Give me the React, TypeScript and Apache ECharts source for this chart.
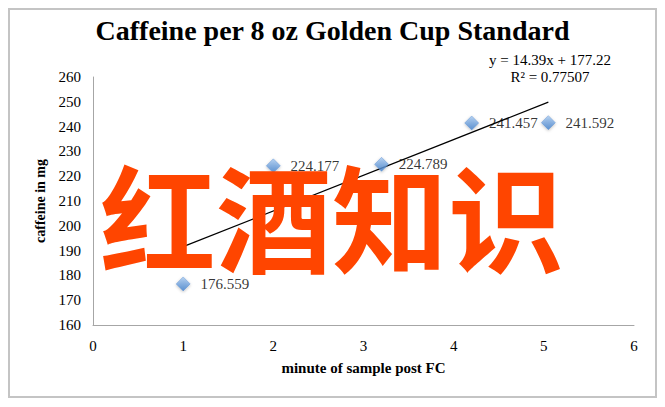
import React, { useEffect, useRef } from "react";
import * as echarts from "echarts";

const xValues = [1, 2, 3.2, 4.2, 5.05];
const yValues = [176.559, 224.177, 224.789, 241.457, 241.592];
const trendSlope = 14.39;
const trendIntercept = 177.22;
const trendRange = [1, 5.05];
const rSquared = "0.77507";
const titleText = "Caffeine per 8 oz Golden Cup Standard";
const overlayText = "红酒知识";

export default function App() {
  const ref = useRef<HTMLDivElement>(null);
  useEffect(() => {
    if (!ref.current) return;
    const chart = echarts.init(ref.current, null, { renderer: "svg" });
    const serif = "Liberation Serif";
    const points = xValues.map((x, i) => [x, yValues[i]]);
    const trend = trendRange.map((x) => [x, +(trendSlope * x + trendIntercept).toFixed(3)]);
    chart.setOption({
      animation: false,
      backgroundColor: "#ffffff",
      title: {
        text: titleText,
        left: "center",
        top: 11,
        textStyle: { fontFamily: serif, fontWeight: "bold", fontSize: 28, color: "#000" },
      },
      grid: { left: 93, right: 31, top: 77, bottom: 82 },
      xAxis: {
        type: "value",
        min: 0,
        max: 6,
        interval: 1,
        name: "minute of sample post FC",
        nameLocation: "middle",
        nameGap: 35,
        nameTextStyle: { fontFamily: serif, fontWeight: "bold", fontSize: 15, color: "#000" },
        axisLine: { lineStyle: { color: "#a6a6a6", width: 1 } },
        axisTick: { show: false },
        splitLine: { show: false },
        axisLabel: { fontFamily: serif, fontSize: 15, color: "#000", margin: 13 },
      },
      yAxis: {
        type: "value",
        min: 160,
        max: 260,
        interval: 10,
        name: "caffeine in mg",
        nameLocation: "middle",
        nameRotate: 90,
        nameGap: 41,
        nameTextStyle: { fontFamily: serif, fontWeight: "bold", fontSize: 14, color: "#000" },
        axisLine: { show: true, lineStyle: { color: "#a6a6a6", width: 1 } },
        axisTick: { show: false },
        splitLine: { show: false },
        axisLabel: { fontFamily: serif, fontSize: 15, color: "#000", margin: 12 },
      },
      series: [
        {
          type: "line",
          data: trend,
          symbol: "none",
          lineStyle: { color: "#000", width: 1.2 },
          z: 2,
          silent: true,
        },
        {
          type: "scatter",
          data: points,
          symbol: "diamond",
          symbolSize: 14,
          z: 3,
          itemStyle: {
            color: new echarts.graphic.LinearGradient(0, 0, 0, 1, [
              { offset: 0, color: "#a9cbf2" },
              { offset: 1, color: "#3f7fcc" },
            ]),
            borderColor: "#4f86cc",
            borderWidth: 0.5,
            shadowColor: "rgba(0,0,0,0.3)",
            shadowBlur: 3,
            shadowOffsetY: 1,
          },
          label: {
            show: true,
            position: "right",
            distance: 10,
            formatter: (p: any) => String(p.value[1]),
            fontFamily: serif,
            fontSize: 15,
            color: "#000",
          },
        },
      ],
      graphic: [
        {
          type: "rect",
          shape: { x: 9, y: 9, width: 647, height: 388 },
          style: { fill: "none", stroke: "#c4c4c4", lineWidth: 2 },
          z: 0,
        },
        {
          type: "text",
          x: 550,
          y: 60,
          style: {
            text: `y = ${trendSlope}x + ${trendIntercept}`,
            fontFamily: serif,
            fontSize: 15,
            fill: "#000",
            align: "center",
            verticalAlign: "middle",
          },
          z: 5,
        },
        {
          type: "text",
          x: 550,
          y: 77,
          style: {
            text: `R² = ${rSquared}`,
            fontFamily: serif,
            fontSize: 15,
            fill: "#000",
            align: "center",
            verticalAlign: "middle",
          },
          z: 5,
        },
        {
          type: "text",
          x: 332,
          y: 213,
          style: {
            text: overlayText,
            fontFamily: "Noto Sans CJK SC",
            fontWeight: "bold",
            fontSize: 116,
            fill: "#ff4500",
            align: "center",
            verticalAlign: "middle",
          },
          z: 10,
        },
      ],
    });
    return () => chart.dispose();
  }, []);
  return (
    <div
      ref={ref}
      style={{ position: "fixed", left: 0, top: 0, width: 665, height: 407 }}
    />
  );
}
